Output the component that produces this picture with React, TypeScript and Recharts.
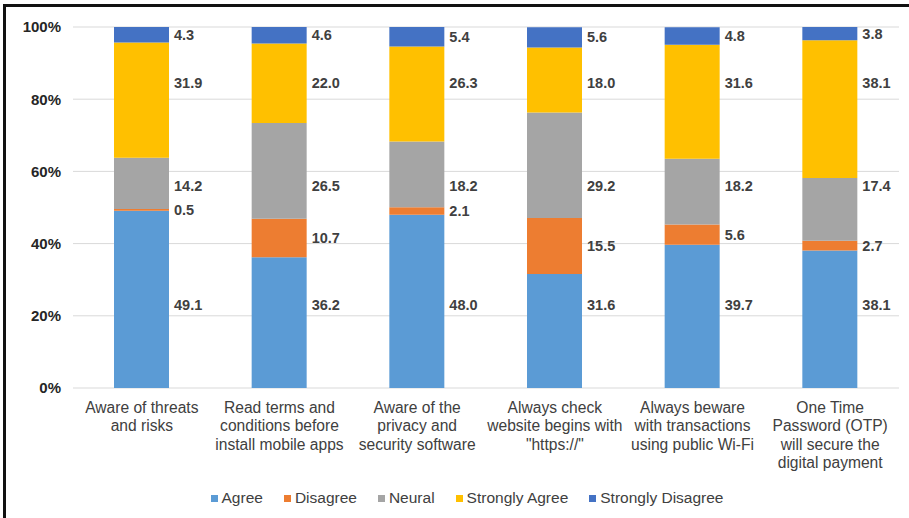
import { BarChart, Bar, XAxis, YAxis, CartesianGrid, Legend, LabelList } from 'recharts';

// survey statements, one entry per line of the axis label
const categories = [
  ['Aware of threats', 'and risks'],
  ['Read terms and', 'conditions before', 'install mobile apps'],
  ['Aware of the', 'privacy and', 'security software'],
  ['Always check', 'website begins with', '"https://"'],
  ['Always beware', 'with transactions', 'using public Wi-Fi'],
  ['One Time', 'Password (OTP)', 'will secure the', 'digital payment'],
];

const agree = [49.1, 36.2, 48.0, 31.6, 39.7, 38.1];
const disagree = [0.5, 10.7, 2.1, 15.5, 5.6, 2.7];
const neural = [14.2, 26.5, 18.2, 29.2, 18.2, 17.4];
const stronglyAgree = [31.9, 22.0, 26.3, 18.0, 31.6, 38.1];
const stronglyDisagree = [4.3, 4.6, 5.4, 5.6, 4.8, 3.8];

const yTicks = [0, 20, 40, 60, 80, 100];

// stacking order, bottom to top
const series = [
  { key: 'agree', name: 'Agree', values: agree, color: '#5B9BD5' },
  { key: 'disagree', name: 'Disagree', values: disagree, color: '#ED7D31' },
  { key: 'neural', name: 'Neural', values: neural, color: '#A5A5A5' },
  { key: 'stronglyAgree', name: 'Strongly Agree', values: stronglyAgree, color: '#FFC000' },
  { key: 'stronglyDisagree', name: 'Strongly Disagree', values: stronglyDisagree, color: '#4472C4' },
];

// some labels sit on a shared row (in % of the axis) instead of the segment middle
const labelRow: Record<string, number | null> = {
  agree: 23,
  disagree: null,
  neural: 56,
  stronglyAgree: 84.5,
  stronglyDisagree: null,
};

const data = categories.map((lines, i) => {
  const row: Record<string, string | number> = { name: lines.join('\n') };
  series.forEach((s) => {
    row[s.key] = s.values[i];
  });
  return row;
});

const FONT = '"Liberation Sans", Arial, sans-serif';

function makeLabel(seriesIndex: number) {
  const s = series[seriesIndex];
  return (props: any) => {
    const { x, y, width, height, value, index } = props;
    const lower = series.slice(0, seriesIndex).reduce((acc, p) => acc + p.values[index], 0);
    const bottom = y + height;
    const perUnit = height / value;
    const row = labelRow[s.key];
    const ty = row == null ? y + height / 2 : bottom - (row - lower) * perUnit;
    return (
      <text
        x={x + width + 5}
        y={ty}
        dominantBaseline="central"
        fontSize={14.5}
        fontWeight="bold"
        fill="#404040"
        fontFamily={FONT}
      >
        {Number(value).toFixed(1)}
      </text>
    );
  };
}

function CategoryTick({ x, y, payload }: any) {
  const lines = String(payload.value).split('\n');
  return (
    <text x={x} y={y + 25} textAnchor="middle" fontSize={15.6} fill="#404040" fontFamily={FONT}>
      {lines.map((line, i) => (
        <tspan key={i} x={x} dy={i === 0 ? 0 : 18.3}>
          {line}
        </tspan>
      ))}
    </text>
  );
}

function LegendBox() {
  return (
    <div
      style={{
        display: 'flex',
        justifyContent: 'center',
        gap: 21,
        height: 20,
        lineHeight: '20px',
        paddingLeft: 35,
        fontFamily: FONT,
        fontSize: 15.5,
        color: '#404040',
      }}
    >
      {series.map((s) => (
        <div key={s.key} style={{ display: 'flex', alignItems: 'center' }}>
          <span style={{ width: 7, height: 7, background: s.color, marginRight: 4 }} />
          <span>{s.name}</span>
        </div>
      ))}
    </div>
  );
}

export default function App() {
  return (
    <div style={{ position: 'absolute', left: 0, top: 0, width: 909, height: 518, background: '#fff' }}>
      <div
        style={{
          position: 'absolute',
          left: 3,
          top: 4,
          right: 0,
          bottom: 0,
          borderTop: '3px solid #111',
          borderLeft: '3px solid #111',
        }}
      />
      <div style={{ position: 'absolute', left: 0, top: 0 }}>
        <BarChart
          width={909}
          height={518}
          data={data}
          margin={{ top: 27, right: 10, left: 0, bottom: 10 }}
          barSize={55}
        >
          <CartesianGrid vertical={false} stroke="#D9D9D9" />
          <XAxis
            dataKey="name"
            interval={0}
            height={100}
            axisLine={false}
            tickLine={false}
            tickSize={0}
            tickMargin={0}
            tick={<CategoryTick />}
          />
          <YAxis
            width={73}
            domain={[0, 100]}
            ticks={yTicks}
            allowDataOverflow
            axisLine={false}
            tickLine={false}
            tickMargin={6}
            tickFormatter={(v: number) => `${v}%`}
            tick={{ fontSize: 15, fontWeight: 'bold', fill: '#262626', fontFamily: FONT }}
          />
          <Legend verticalAlign="bottom" content={<LegendBox />} />
          {series.map((s, i) => (
            <Bar key={s.key} dataKey={s.key} name={s.name} stackId="a" fill={s.color} isAnimationActive={false}>
              <LabelList dataKey={s.key} content={makeLabel(i)} />
            </Bar>
          ))}
        </BarChart>
      </div>
    </div>
  );
}
